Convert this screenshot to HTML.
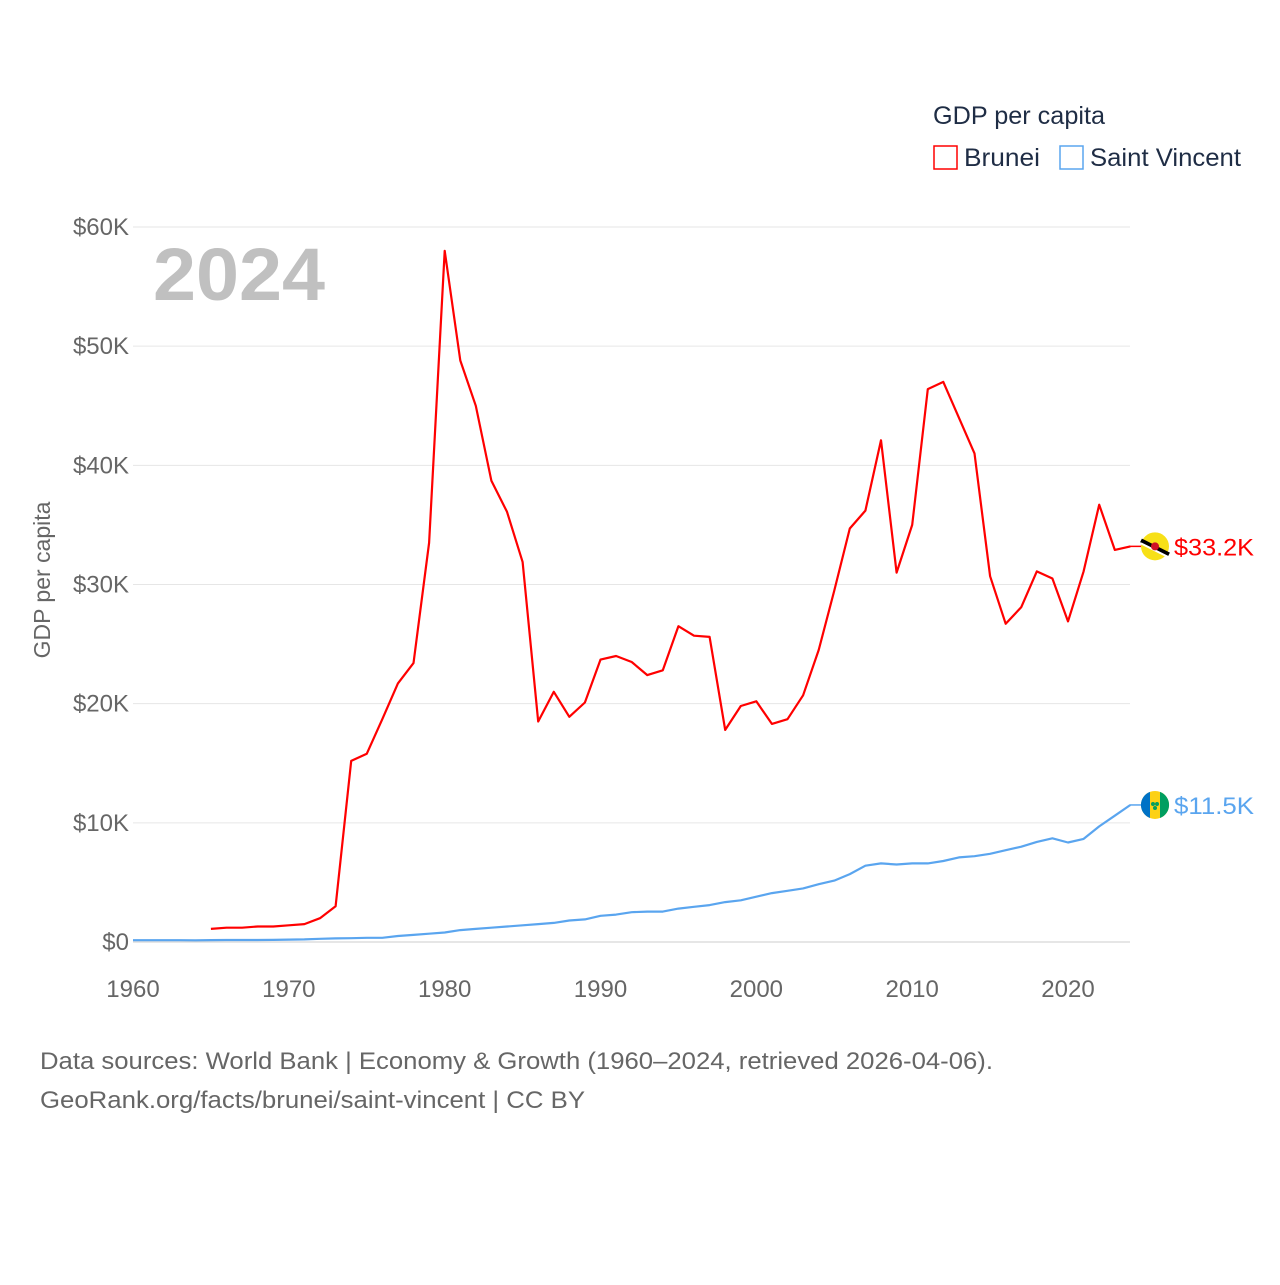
<!DOCTYPE html>
<html><head><meta charset="utf-8"><style>
body{margin:0;background:#fff;font-family:"Liberation Sans",sans-serif}
svg text{font-family:"Liberation Sans",sans-serif}
</style></head><body>
<svg id="chart" width="1280" height="1280" xmlns="http://www.w3.org/2000/svg">
<g id="grid"></g>
<g id="yticks"></g>
<g id="xticks"></g>
<text x="153" y="300" font-size="74" font-weight="bold" fill="#c0c0c0" textLength="172" lengthAdjust="spacingAndGlyphs">2024</text>
<text transform="translate(50,580) rotate(-90)" text-anchor="middle" font-size="23" fill="#666">GDP per capita</text>
<g id="series"></g>
<text x="933" y="124" font-size="25" fill="#1f2d45" textLength="172" lengthAdjust="spacingAndGlyphs">GDP per capita</text>
<g><rect x="934" y="146" width="23" height="23" fill="none" stroke="#f00" stroke-width="1.5"/><text x="964" y="166" font-size="25" fill="#1f2d45" textLength="76" lengthAdjust="spacingAndGlyphs">Brunei</text></g>
<g><rect x="1060" y="146" width="23" height="23" fill="none" stroke="#5aa5ef" stroke-width="1.5"/><text x="1090" y="166" font-size="25" fill="#1f2d45" textLength="151" lengthAdjust="spacingAndGlyphs">Saint Vincent</text></g>
<text x="40" y="1069" font-size="24" fill="#666" textLength="953" lengthAdjust="spacingAndGlyphs">Data sources: World Bank | Economy &amp; Growth (1960–2024, retrieved 2026-04-06).</text>
<text x="40" y="1108" font-size="24" fill="#666" textLength="545" lengthAdjust="spacingAndGlyphs">GeoRank.org/facts/brunei/saint-vincent | CC BY</text>
</svg>
<script>
const yTicks=[0,10,20,30,40,50,60];
const yTickLabels=["$0","$10K","$20K","$30K","$40K","$50K","$60K"];
const xTicks=[1960,1970,1980,1990,2000,2010,2020];
const bruneiStart=1965;
const bruneiValues=[1.1,1.2,1.2,1.3,1.3,1.4,1.5,2.0,3.0,15.2,15.8,18.7,21.7,23.4,33.5,58.0,48.8,45.0,38.7,36.1,31.9,18.5,21.0,18.9,20.1,23.7,24.0,23.5,22.4,22.8,26.5,25.7,25.6,17.8,19.8,20.2,18.3,18.7,20.7,24.5,29.5,34.7,36.2,42.1,31.0,35.0,46.4,47.0,44.0,41.0,30.7,26.7,28.1,31.1,30.5,26.9,31.1,36.7,32.9,33.2];
const svgStart=1960;
const svgValues=[0.15,0.15,0.15,0.15,0.14,0.16,0.17,0.17,0.17,0.18,0.2,0.22,0.27,0.3,0.32,0.35,0.35,0.5,0.6,0.7,0.8,1.0,1.1,1.2,1.3,1.4,1.5,1.6,1.8,1.9,2.2,2.3,2.5,2.55,2.55,2.8,2.95,3.1,3.35,3.5,3.8,4.1,4.3,4.5,4.85,5.15,5.7,6.4,6.6,6.5,6.6,6.6,6.8,7.1,7.2,7.4,7.7,8.0,8.4,8.7,8.35,8.65,9.7,10.6,11.5];
const X=yr=>133+(yr-1960)*935/60;
const Y=v=>942-v*715/60;
const NS="http://www.w3.org/2000/svg";
function mk(tag,parent,attrs){const e=document.createElementNS(NS,tag);for(const k in attrs)e.setAttribute(k,attrs[k]);parent.appendChild(e);return e;}
const grid=document.getElementById('grid'),yg=document.getElementById('yticks'),xg=document.getElementById('xticks'),sg=document.getElementById('series');
yTicks.forEach((t,i)=>{
 const l=mk('line',grid,{x1:133,x2:1130,y1:Y(t),y2:Y(t),stroke:t===0?'#ccc':'#e6e6e6','stroke-width':1});
 
 
 const tx=mk('text',yg,{x:129,y:Y(t)+8,'text-anchor':'end','font-size':24,fill:'#666'});
 tx.textContent=yTickLabels[i];
 
 
});
xTicks.forEach(t=>{
 const tx=mk('text',xg,{x:X(t),y:997,'text-anchor':'middle','font-size':24,fill:'#666'});
 tx.textContent=t;
 
 
});
function series(start,vals,color,name,label,flag){
 const pts=vals.map((v,i)=>X(start+i).toFixed(1)+','+Y(v).toFixed(1)).join(' ');
 const p=mk('polyline',sg,{points:pts,fill:'none',stroke:color,'stroke-width':2.2,'stroke-linejoin':'round'});
 
 
 const last=vals[vals.length-1],ly=Y(last);
 mk('line',sg,{x1:1130,x2:1142,y1:ly,y2:ly,stroke:color,'stroke-width':1.5});
 const g=mk('g',sg,{});
 
 
 flag(g,1155,ly);
 const t=mk('text',sg,{x:1174,y:ly+9,'font-size':24,fill:color,textLength:80,lengthAdjust:'spacingAndGlyphs'});
 t.textContent=label(last);
 
 
}
series(bruneiStart,bruneiValues,'#f00','brunei',v=>'$'+v.toFixed(1)+'K',(g,x,y)=>{
 mk('circle',g,{cx:x,cy:y,r:14,fill:'#f7e017'});
 mk('line',g,{x1:x-14,y1:y-6,x2:x+14,y2:y+8,stroke:'#000','stroke-width':4});
 mk('line',g,{x1:x-14,y1:y-3,x2:x+14,y2:y+11,stroke:'#fff','stroke-width':2});
 mk('circle',g,{cx:x,cy:y,r:4,fill:'#cf1126'});
});
series(svgStart,svgValues,'#5aa5ef','saint-vincent',v=>'$'+v.toFixed(1)+'K',(g,x,y)=>{
 mk('circle',g,{cx:x,cy:y,r:14,fill:'#fcd116'});
 mk('path',g,{d:`M${x-5},${y-13.1} A14,14 0 0 0 ${x-5},${y+13.1} Z`,fill:'#0072c6'});
 mk('path',g,{d:`M${x+5},${y-13.1} A14,14 0 0 1 ${x+5},${y+13.1} Z`,fill:'#009e60'});
 mk('circle',g,{cx:x-2,cy:y-1,r:2,fill:'#009e60'});mk('circle',g,{cx:x+2,cy:y-1,r:2,fill:'#009e60'});mk('circle',g,{cx:x,cy:y+3,r:2,fill:'#009e60'});
});
</script>
</body></html>
